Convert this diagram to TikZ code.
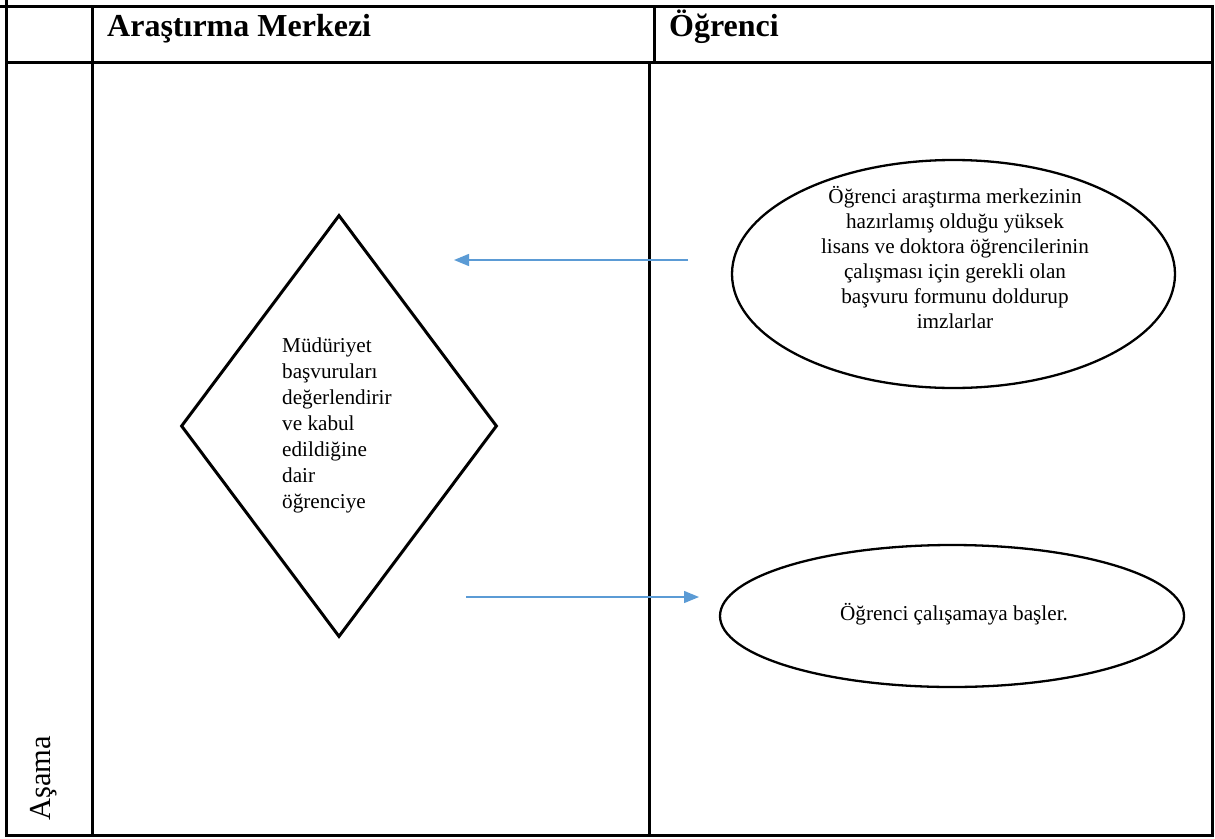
\documentclass[tikz,border=0pt]{standalone}
\usepackage{fontspec}
\setmainfont{Liberation Serif}
\usetikzlibrary{shapes.geometric,arrows.meta}
\definecolor{arrowblue}{RGB}{91,155,213}
\tikzset{
  grid/.style={line width=3pt, line cap=rect},
  flowarrow/.style={draw=arrowblue, line width=1.4pt, -{Triangle[length=15pt,width=12pt]}},
  head/.style={font=\fontsize{32}{36}\selectfont\bfseries, anchor=base west, inner sep=0pt},
  bodytext/.style={font=\fontsize{21.2}{25}\selectfont, inner sep=0pt},
}
\begin{document}
\begin{tikzpicture}[x=1pt,y=-1pt]
\useasboundingbox (0,0) rectangle (1215,838);
% table
\draw[grid] (0,6) -- (1212,6);
\draw[grid] (6,0) -- (6,835.5);
\draw[grid] (6,62) -- (1212,62);
\draw[grid] (92,6) -- (92,835.5);
\draw[grid] (654,6) -- (654,62);
\draw[grid] (649,62) -- (649,835.5);
\draw[grid] (1212,6) -- (1212,835.5);
\draw[grid] (6,835.5) -- (1212,835.5);
% headers
\node[head] (h1) at (107,36) {Araştırma Merkezi};
\node[head] (h2) at (669,36) {Öğrenci};
\node[font=\fontsize{30.5}{36}\selectfont, rotate=90, anchor=base west, inner sep=0pt] (asama) at (50,821) {Aşama};
% diamond
\node[diamond, draw, line width=3pt, minimum width=316pt, minimum height=422pt, inner sep=0pt] (dia) at (339,426) {};
\node[bodytext, font=\fontsize{21.2}{26}\selectfont, anchor=north west, align=left] (diatext) at (282,338)
  {Müdüriyet\\başvuruları\\değerlendirir\\ve kabul\\edildiğine\\dair\\öğrenciye};
% ellipses
\node[ellipse, draw, line width=2.3pt, minimum width=443pt, minimum height=228pt, inner sep=0pt] (e1) at (953.5,274) {};
\node[bodytext, align=center, anchor=north] (e1text) at (955,186)
  {Öğrenci araştırma merkezinin\\hazırlamış olduğu yüksek\\lisans ve doktora öğrencilerinin\\çalışması için gerekli olan\\başvuru formunu doldurup\\imzlarlar};
\node[ellipse, draw, line width=2.3pt, minimum width=464pt, minimum height=142pt, inner sep=0pt] (e2) at (952,616) {};
\node[bodytext] (e2text) at (954,614) {Öğrenci çalışamaya başler.};
% arrows
\coordinate (a1s) at (688,260);
\coordinate (a1e) at (454,260);
\coordinate (a2s) at (466,597);
\coordinate (a2e) at (699,597);
\draw[flowarrow] (a1s) -- (a1e);
\draw[flowarrow] (a2s) -- (a2e);
\end{tikzpicture}
\end{document}
